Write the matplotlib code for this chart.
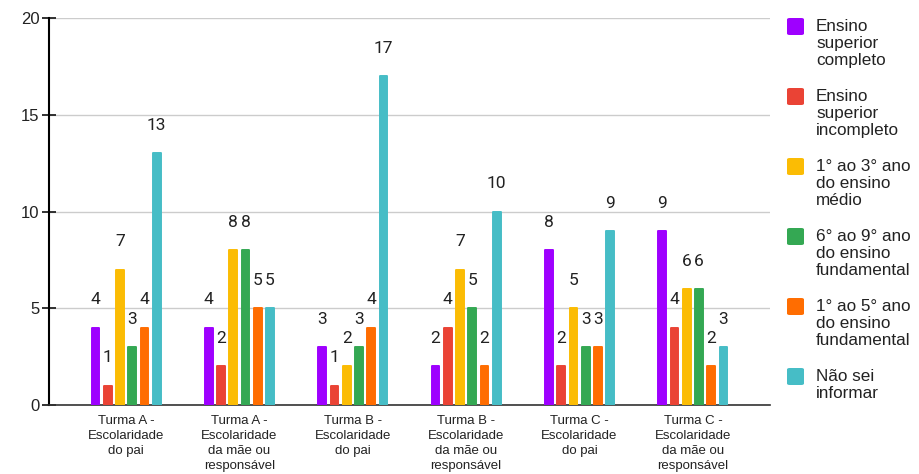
import matplotlib.pyplot as plt
import numpy as np
from matplotlib.patches import FancyBboxPatch

groups = [
    "Turma A -\nEscolaridade\ndo pai",
    "Turma A -\nEscolaridade\nda mãe ou\nresponsável",
    "Turma B -\nEscolaridade\ndo pai",
    "Turma B -\nEscolaridade\nda mãe ou\nresponsável",
    "Turma C -\nEscolaridade\ndo pai",
    "Turma C -\nEscolaridade\nda mãe ou\nresponsável",
]
series = [
    "Ensino\nsuperior\ncompleto",
    "Ensino\nsuperior\nincompleto",
    "1° ao 3° ano\ndo ensino\nmédio",
    "6° ao 9° ano\ndo ensino\nfundamental",
    "1° ao 5° ano\ndo ensino\nfundamental",
    "Não sei\ninformar",
]
superior_completo = [4, 4, 3, 2, 8, 9]
superior_incompleto = [1, 2, 1, 4, 2, 4]
medio = [7, 8, 2, 7, 5, 6]
fund_6_9 = [3, 8, 3, 5, 3, 6]
fund_1_5 = [4, 5, 4, 2, 3, 2]
nao_sei = [13, 5, 17, 10, 9, 3]
values = [superior_completo, superior_incompleto, medio, fund_6_9, fund_1_5, nao_sei]
colors = ["#9e00ff", "#ea4335", "#fbbc04", "#34a853", "#ff6d01", "#46bdc6"]

fig = plt.figure(figsize=(9.2, 4.74), dpi=100)
ax = fig.add_axes([49 / 920, 1 - 405 / 474, (770 - 49) / 920, (405 - 18) / 474])

x = np.arange(len(groups))
step = 0.108
width = 0.068
for i, (vals, col) in enumerate(zip(values, colors)):
    xs = x + (i - 2.5) * step
    ax.bar(xs, vals, width=width, color=col, edgecolor=col, linewidth=1.4,
           joinstyle="round", zorder=3)
    for xi, v in zip(xs, vals):
        ax.annotate(str(v), (xi, v), xytext=(0, 20), textcoords="offset points",
                    ha="center", va="center", fontsize=12.5, color="#222222",
                    family="Roboto")

ax.set_xlim(-0.68, 5.68)
ax.set_ylim(0, 20)
ax.set_yticks([0, 5, 10, 15, 20])
ax.yaxis.grid(True, color="#cccccc", linewidth=1, zorder=0)
ax.set_axisbelow(True)
for s in ["top", "right"]:
    ax.spines[s].set_visible(False)
ax.spines["left"].set_linewidth(1.5)
ax.spines["bottom"].set_color("#333333")
ax.spines["bottom"].set_linewidth(1.2)
ax.tick_params(axis="y", direction="inout", length=10, width=1.3,
               labelsize=12, colors="#222222", pad=2)
ax.tick_params(axis="x", length=0, pad=7)
ax.set_xticks(x)
ax.set_xticklabels(groups, fontsize=9.5, family="Liberation Sans",
                   color="#222222", linespacing=1.35)
for lbl in ax.get_yticklabels():
    lbl.set_family("Liberation Sans")

# legend drawn by hand so each entry wraps over several lines
for i, (name, col) in enumerate(zip(series, colors)):
    top = 18 + i * 70
    fig.patches.append(FancyBboxPatch(
        (787 / 920, 1 - (top + 17) / 474), 17 / 920, 17 / 474,
        boxstyle="round,pad=0,rounding_size=0.003", transform=fig.transFigure,
        facecolor=col, edgecolor="none"))
    fig.text(816 / 920, 1 - (top + 1) / 474, name, ha="left", va="top",
             fontsize=12.3, family="Liberation Sans", color="#222222",
             linespacing=1.17)

fig.savefig("out.png", dpi=100)
